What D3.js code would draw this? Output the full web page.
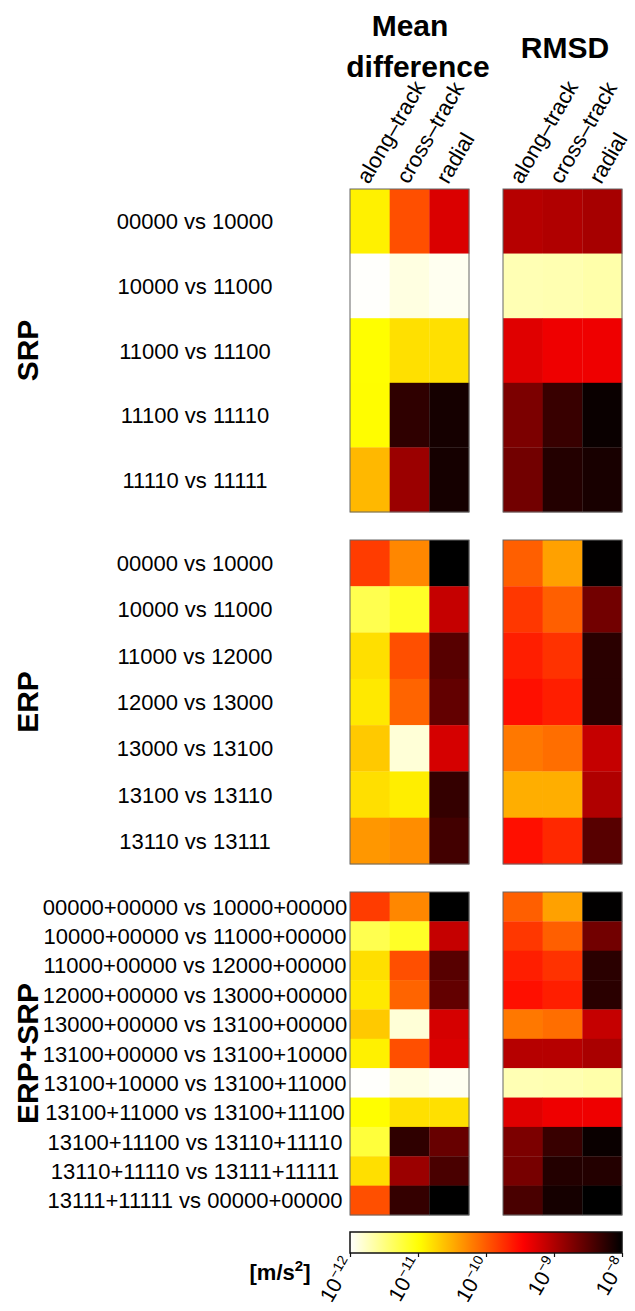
<!DOCTYPE html>
<html><head><meta charset="utf-8">
<script src="https://cdn.jsdelivr.net/npm/d3@7"></script>
<style>
html,body{margin:0;padding:0;background:#fff;}
svg{display:block;font-family:"Liberation Sans",Arial,Helvetica,sans-serif;}
</style></head>
<body>
<script>
// ---------- DATA (values stored as log10 of m/s^2) ----------
const components = ["along–track", "cross–track", "radial"];
const groupNames = ["SRP", "ERP", "ERP+SRP"];

const labelsSRP = ["00000 vs 10000","10000 vs 11000","11000 vs 11100","11100 vs 11110","11110 vs 11111"];
const labelsERP = ["00000 vs 10000","10000 vs 11000","11000 vs 12000","12000 vs 13000","13000 vs 13100","13100 vs 13110","13110 vs 13111"];
const labelsERPSRP = ["00000+00000 vs 10000+00000","10000+00000 vs 11000+00000","11000+00000 vs 12000+00000",
  "12000+00000 vs 13000+00000","13000+00000 vs 13100+00000","13100+00000 vs 13100+10000",
  "13100+10000 vs 13100+11000","13100+11000 vs 13100+11100","13100+11100 vs 13110+11110",
  "13110+11110 vs 13111+11111","13111+11111 vs 00000+00000"];

const meanSRP = [[-10.9,-9.93,-9.25],[-11.99,-11.88,-11.94],[-10.98,-10.8,-10.8],[-10.97,-8.27,-8.12],[-10.56,-8.89,-8.12]];
const rmsdSRP = [[-9.04,-9.01,-8.95],[-11.7,-11.69,-11.66],[-9.28,-9.37,-9.37],[-8.71,-8.32,-8.06],[-8.65,-8.2,-8.14]];

const meanERP = [[-9.82,-10.27,-8.0],[-11.3,-11.14,-9.13],[-10.79,-9.93,-8.5],[-10.85,-10.06,-8.56],[-10.66,-11.84,-9.22],[-10.79,-10.88,-8.3],[-10.36,-10.3,-8.38]];
const rmsdERP = [[-10.03,-10.42,-8.01],[-9.79,-10.03,-8.65],[-9.64,-9.76,-8.24],[-9.55,-9.64,-8.24],[-10.18,-10.12,-9.13],[-10.5,-10.5,-9.01],[-9.55,-9.7,-8.5]];

const meanERPSRP = [[-9.82,-10.27,-8.0],[-11.3,-11.14,-9.13],[-10.79,-9.93,-8.5],[-10.85,-10.06,-8.56],[-10.66,-11.84,-9.22],
  [-10.9,-9.93,-9.25],[-11.99,-11.88,-11.94],[-10.98,-10.8,-10.8],[-11.22,-8.27,-8.59],[-10.79,-8.89,-8.42],[-9.93,-8.3,-8.0]];
const rmsdERPSRP = [[-10.03,-10.42,-8.01],[-9.79,-10.03,-8.65],[-9.64,-9.76,-8.24],[-9.55,-9.64,-8.24],[-10.18,-10.12,-9.13],
  [-9.04,-9.04,-8.97],[-11.7,-11.69,-11.66],[-9.28,-9.37,-9.37],[-8.71,-8.32,-8.06],[-8.68,-8.2,-8.2],[-8.42,-8.12,-8.0]];

const colorTicks = [1e-12, 1e-11, 1e-10, 1e-9, 1e-8];
const colorTickExp = ["−12", "−11", "−10", "−9", "−8"];
const unitLabel = "[m/s";

// ---------- LAYOUT ----------
const W = 635, H = 1311;
const svg = d3.select("body").append("svg").attr("width", W).attr("height", H);

// reversed "hot" colormap
function hotR(t) {
  const x = 1 - Math.max(0, Math.min(1, t));
  const k1 = 0.365079, k2 = 0.746032;
  const r = x < k1 ? x / k1 : 1;
  const g = Math.max(0, Math.min(1, (x - k1) / (k2 - k1)));
  const b = Math.max(0, Math.min(1, (x - k2) / (1 - k2)));
  return d3.rgb(r * 255, g * 255, b * 255).toString();
}
const color = d3.scaleSequentialLog([1e-12, 1e-8], hotR).clamp(true);

const panelX = [[350, 469], [503, 622]];
const groups = [
  {name: groupNames[0], labels: labelsSRP, mats: [meanSRP, rmsdSRP], y: [189, 512]},
  {name: groupNames[1], labels: labelsERP, mats: [meanERP, rmsdERP], y: [540, 864]},
  {name: groupNames[2], labels: labelsERPSRP, mats: [meanERPSRP, rmsdERPSRP], y: [892, 1215]}
];
const xScales = panelX.map(r => d3.scaleBand().domain(components).range(r));

groups.forEach(g => {
  const y = d3.scaleBand().domain(g.labels.map((d, i) => i)).range(g.y);
  g.mats.forEach((m, p) => {
    const x = xScales[p];
    const gp = svg.append("g");
    const cells = [];
    m.forEach((row, i) => row.forEach((v, j) => cells.push({i, j, v: Math.pow(10, v)})));
    gp.selectAll("rect.cell").data(cells).join("rect")
      .attr("class", "cell")
      .attr("x", d => x(components[d.j]))
      .attr("y", d => y(d.i))
      .attr("width", x.bandwidth() + 0.3)
      .attr("height", y.bandwidth() + 0.3)
      .attr("fill", d => color(d.v));
    gp.append("rect")
      .attr("x", panelX[p][0]).attr("y", g.y[0])
      .attr("width", panelX[p][1] - panelX[p][0]).attr("height", g.y[1] - g.y[0])
      .attr("fill", "none").attr("stroke", "#666").attr("stroke-width", 1);
  });
  // row labels
  svg.append("g").selectAll("text").data(g.labels).join("text")
    .attr("x", 195)
    .attr("y", (d, i) => y(i) + y.bandwidth() / 2 + 8)
    .attr("text-anchor", "middle")
    .attr("font-size", 22).attr("fill", "#000")
    .text(d => d);
  // group label
  svg.append("text")
    .attr("transform", `translate(38,${(g.y[0] + g.y[1]) / 2}) rotate(-90)`)
    .attr("text-anchor", "middle")
    .attr("font-size", 30).attr("font-weight", "bold")
    .text(g.name);
});

// column headers
xScales.forEach(x => {
  svg.append("g").selectAll("text").data(components).join("text")
    .attr("transform", d => `translate(${x(d) + x.bandwidth() / 2 - 1},${185}) rotate(-60)`)
    .attr("font-size", 22)
    .text(d => d);
});

// titles
svg.append("text").attr("x", 410).attr("y", 36).attr("text-anchor", "middle")
  .attr("font-size", 30).attr("font-weight", "bold").text("Mean");
svg.append("text").attr("x", 418).attr("y", 77).attr("text-anchor", "middle")
  .attr("font-size", 30).attr("font-weight", "bold").text("difference");
svg.append("text").attr("x", 565).attr("y", 58).attr("text-anchor", "middle")
  .attr("font-size", 30).attr("font-weight", "bold").text("RMSD");

// colorbar
const cb = {x0: 350, x1: 622, y0: 1232, y1: 1253};
const cbScale = d3.scaleLog().domain([1e-12, 1e-8]).range([cb.x0, cb.x1]);
const defs = svg.append("defs");
const grad = defs.append("linearGradient").attr("id", "cbgrad").attr("x1", "0%").attr("x2", "100%");
d3.range(0, 1.0001, 0.02).forEach(t => {
  grad.append("stop").attr("offset", (t * 100) + "%").attr("stop-color", hotR(t));
});
svg.append("rect").attr("x", cb.x0).attr("y", cb.y0)
  .attr("width", cb.x1 - cb.x0).attr("height", cb.y1 - cb.y0)
  .attr("fill", "url(#cbgrad)").attr("stroke", "#111").attr("stroke-width", 1.5);
const ax = svg.append("g").attr("transform", `translate(0,${cb.y1})`)
  .call(d3.axisBottom(cbScale).tickValues(colorTicks).tickSize(4).tickFormat(""));
ax.select(".domain").remove();
ax.selectAll(".tick line").attr("stroke", "#111").attr("stroke-width", 1.2);
svg.append("g").selectAll("text").data(colorTicks).join("text")
  .attr("transform", d => `translate(${cbScale(d) + 5},${1263}) rotate(-60)`)
  .attr("text-anchor", "end")
  .attr("font-size", 21)
  .each(function(d, i) {
    const t = d3.select(this);
    t.append("tspan").text("10");
    t.append("tspan").attr("font-size", 14).attr("dy", -8).text(colorTickExp[i]);
  });
const ul = svg.append("text").attr("x", 280).attr("y", 1280).attr("text-anchor", "middle")
  .attr("font-size", 22).attr("font-weight", "bold");
ul.append("tspan").text(unitLabel);
ul.append("tspan").attr("font-size", 15).attr("dy", -9).text("2");
ul.append("tspan").attr("dy", 9).text("]");
</script>
</body></html>
